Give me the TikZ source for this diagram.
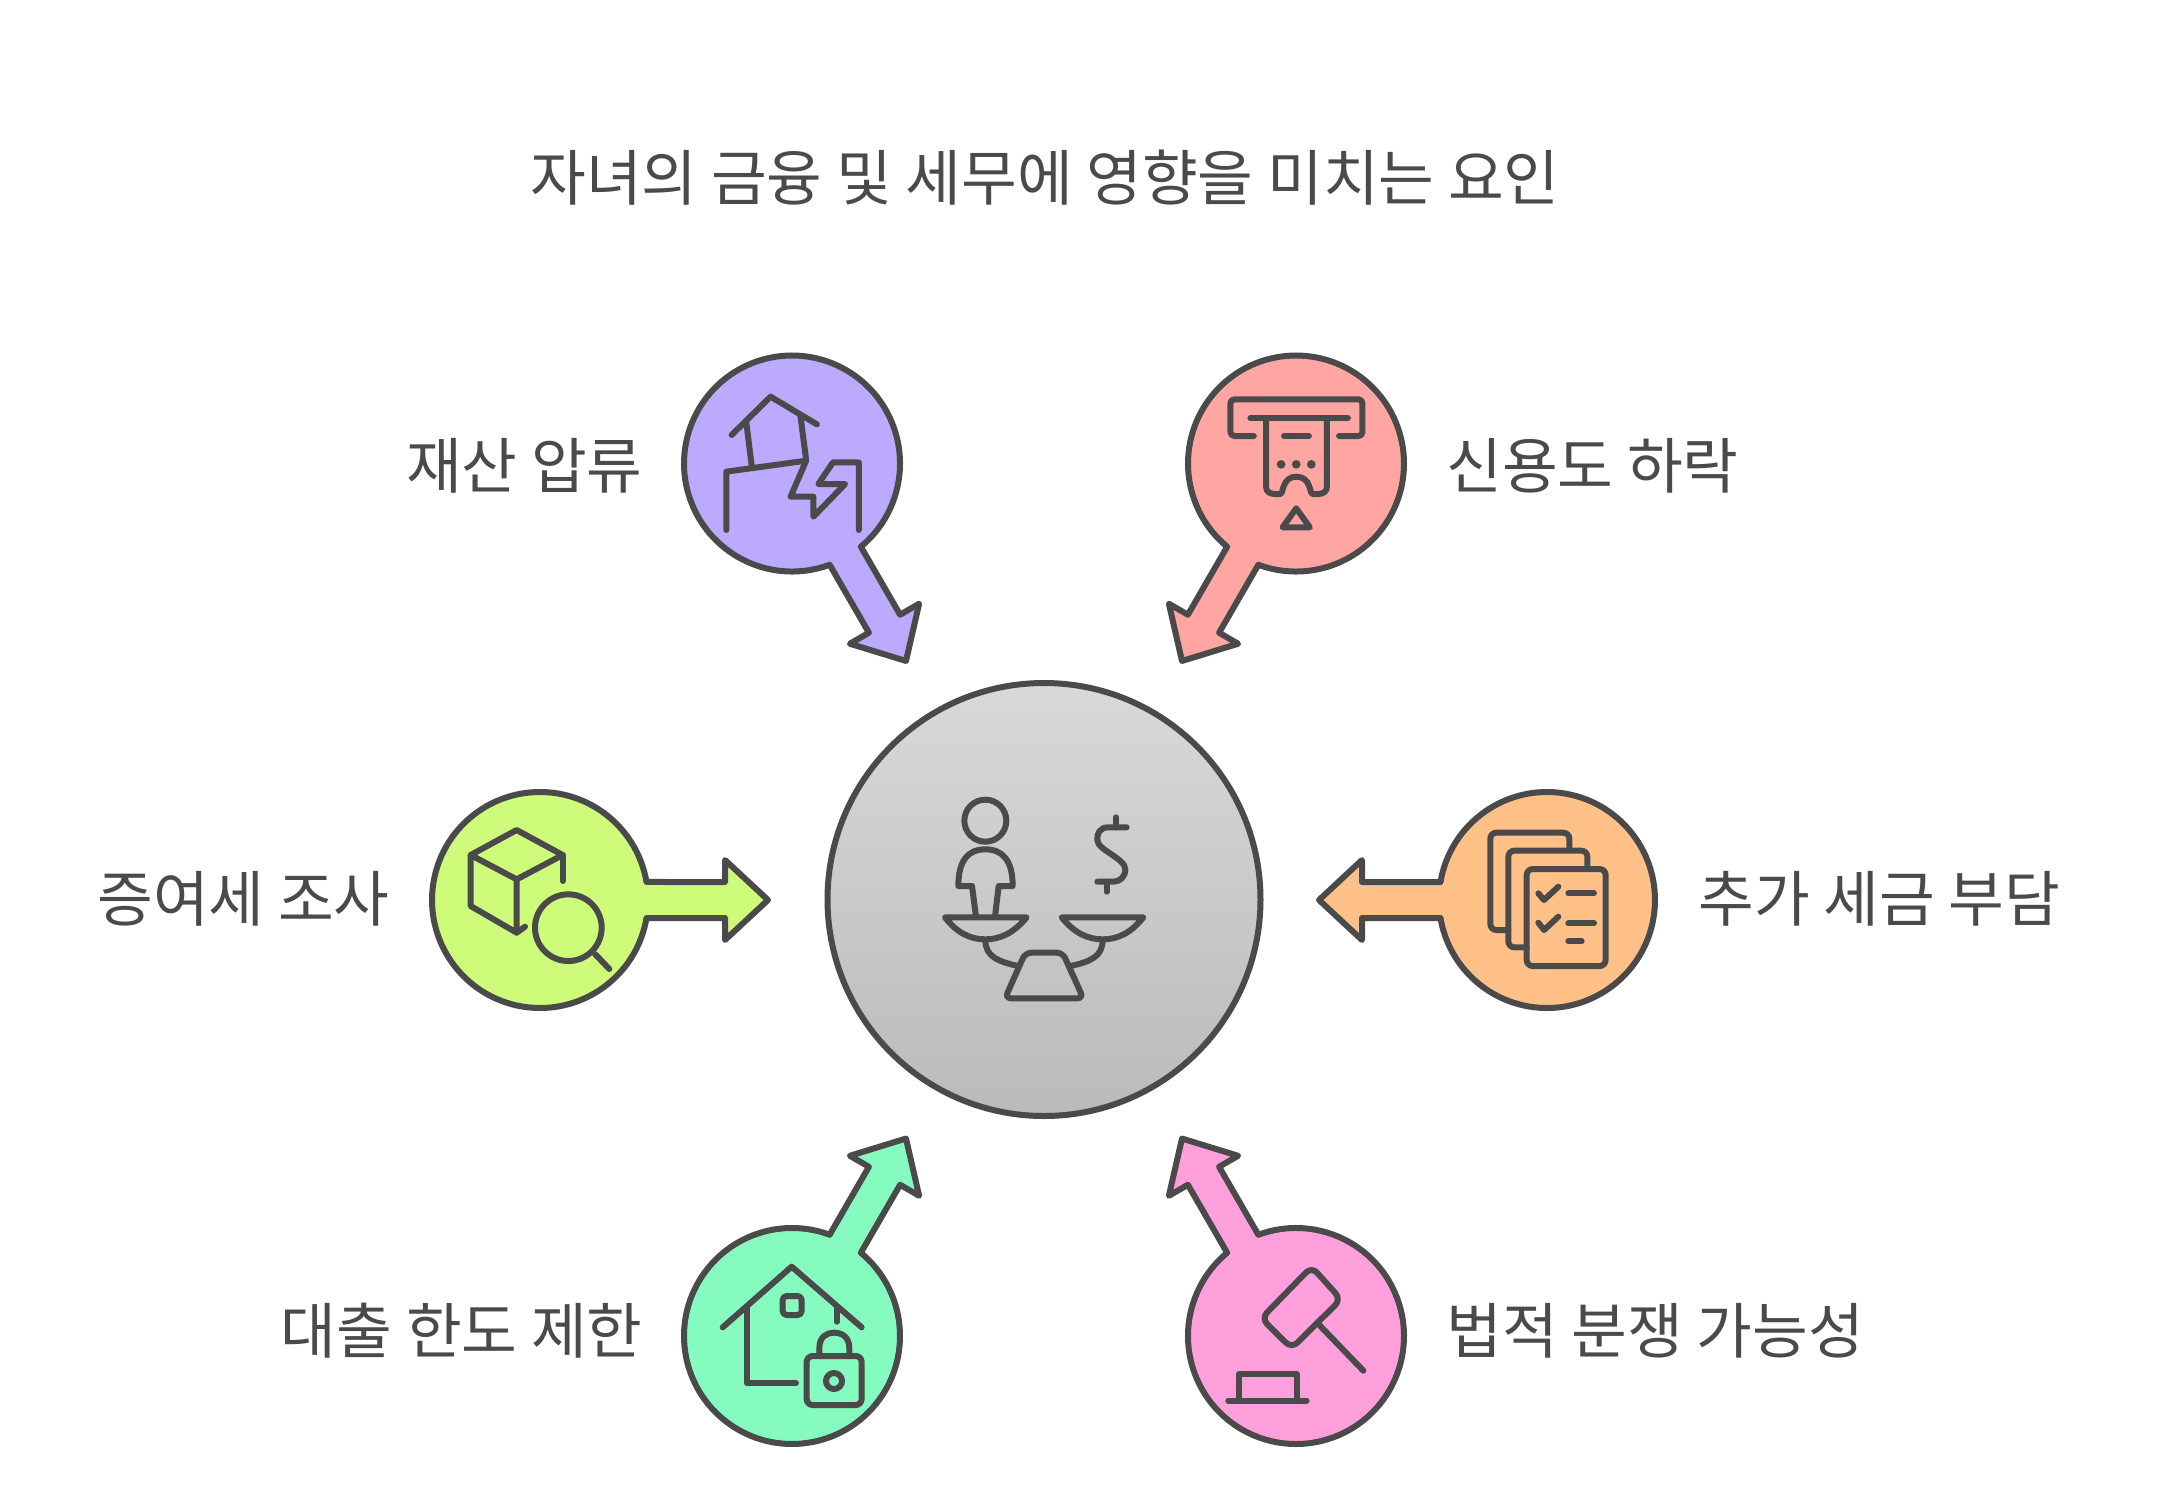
\documentclass[tikz,border=0pt]{standalone}
\usepackage{fontspec}
\setmainfont{Noto Sans CJK KR}
\definecolor{ink}{HTML}{4A4A4A}
\definecolor{cPurple}{HTML}{BBAAFF}
\definecolor{cRed}{HTML}{FFA6A2}
\definecolor{cLime}{HTML}{CEFB7A}
\definecolor{cOrange}{HTML}{FFC187}
\definecolor{cGreen}{HTML}{85FBC0}
\definecolor{cPink}{HTML}{FFA0DC}
\tikzset{
  hub/.style={circle,inner sep=0pt,minimum size=108pt},
  stroke/.style={draw=ink,line width=3pt,line join=round,line cap=round},
  glyph/.style={draw=ink,line width=3pt,line join=round,line cap=round,fill=none},
  label/.style={text=ink,font=\fontsize{30.3}{36}\selectfont,inner sep=0pt},
}
% merged circle + arrow outline: #1 hub node, #2 rotation, #3 colour
\newcommand{\burst}[3]{%
  \begin{scope}[shift={(#1.center)},rotate=#2]
    \path[stroke,fill=#3] (106.5,18) arc[start angle=9.6,end angle=350.4,radius=108]
      -- (185,-18) -- (185,-40) -- (228,0) -- (185,40) -- (185,18) -- cycle;
  \end{scope}}
\begin{document}
\begin{tikzpicture}[x=0.5pt,y=-0.5pt]
\useasboundingbox (0,0) rectangle (2160,1490);
\fill[white] (0,0) rectangle (2160,1490);

\node[label] (title) at (1045,178) {자녀의 금융 및 세무에 영향을 미치는 요인};

% central circle
\node[circle,inner sep=0pt,minimum size=216.5pt,draw=ink,line width=3pt,top color=black!15,bottom color=black!27] (center) at (1044,899.5) {};

% hubs
\node[hub] (hPurple) at (792,463.5) {};
\node[hub] (hRed) at (1296,463.5) {};
\node[hub] (hLime) at (540,900) {};
\node[hub] (hOrange) at (1547,900) {};
\node[hub] (hGreen) at (792,1336) {};
\node[hub] (hPink) at (1296,1336) {};

\burst{hPurple}{-60}{cPurple}
\burst{hRed}{-120}{cRed}
\burst{hLime}{0}{cLime}
\burst{hOrange}{180}{cOrange}
\burst{hGreen}{60}{cGreen}
\burst{hPink}{120}{cPink}

% labels
\node[label,anchor=east] (lPurple) at (643,466) {재산 압류};
\node[label,anchor=west] (lRed) at (1446,466) {신용도 하락};
\node[label,anchor=east] (lLime) at (390,899) {증여세 조사};
\node[label,anchor=west] (lOrange) at (1698,899) {추가 세금 부담};
\node[label,anchor=east] (lGreen) at (643,1331) {대출 한도 제한};
\node[label,anchor=west] (lPink) at (1446,1331) {법적 분쟁 가능성};

% central icon
\begin{scope}[shift={(900,780)},x=0.16667pt,y=-0.16667pt]
  \draw[glyph] (256,122) circle[radius=63];
  \draw[glyph] (228,410) -- (216,318) -- (175,318) .. controls (175,240) and (205,208) .. (256,208) .. controls (307,208) and (338,240) .. (338,318) -- (296,318) -- (285,410);
  \draw[glyph] (135,412) -- (380,412) .. controls (340,460) and (300,478) .. (256,478) .. controls (212,478) and (172,460) .. (135,412) -- cycle;
  \draw[glyph] (485,412) -- (730,412) .. controls (692,460) and (652,478) .. (608,478) .. controls (564,478) and (524,460) .. (485,412) -- cycle;
  \draw[glyph] (256,480) .. controls (256,530) and (295,545) .. (355,558);
  \draw[glyph] (608,480) .. controls (608,530) and (570,545) .. (512,558);
  \draw[glyph,rounded corners=3pt] (376,518) -- (488,518) -- (550,655) -- (315,655) -- cycle;
  \draw[glyph] (680,142) -- (625,142) .. controls (600,142) and (590,160) .. (592,180) .. controls (592,210) and (676,235) .. (676,268) .. controls (676,290) and (660,305) .. (640,305) -- (592,305);
  \draw[glyph] (648,112) -- (648,142);
  \draw[glyph] (620,305) -- (620,335);
\end{scope}

% purple icon
\begin{scope}[shift={(660,330)},x=0.2436pt,y=-0.16667pt]
  \draw[glyph] (147,315) -- (227,200) -- (322,283);
  \draw[glyph] (177,275) -- (188,405);
  \draw[glyph] (288,255) -- (300,390);
  \draw[glyph] (136,600) -- (136,425) -- (300,392) -- (268,500) -- (315,500) -- (315,560) -- (380,462) -- (325,462) -- (355,397) -- (408,397) -- (408,600);
\end{scope}

% red icon
\begin{scope}[shift={(657,330)},x=0.2436pt,y=-0.16667pt]
  \draw[glyph,rounded corners=2pt] (1225,318) -- (1177,318) -- (1177,208) -- (1448,208) -- (1448,318) -- (1400,318);
  \draw[glyph] (1218,264) -- (1418,264);
  \draw[glyph] (1250,270) -- (1250,470) .. controls (1250,485) and (1258,492) .. (1268,492) -- (1278,492) .. controls (1284,492) and (1283,480) .. (1286,470) .. controls (1290,450) and (1300,440) .. (1312,440) .. controls (1325,440) and (1335,450) .. (1339,470) .. controls (1342,480) and (1341,492) .. (1347,492) -- (1357,492) .. controls (1367,492) and (1375,485) .. (1375,470) -- (1375,270);
  \draw[glyph] (1287,318) -- (1338,318);
  \fill[ink] (1281,403) circle[x radius=9,y radius=13];
  \fill[ink] (1312,403) circle[x radius=9,y radius=13];
  \fill[ink] (1343,403) circle[x radius=9,y radius=13];
  \draw[glyph] (1312,535) -- (1340,592) -- (1284,592) -- cycle;
\end{scope}

% lime icon
\begin{scope}[shift={(420,780)},x=0.16667pt,y=-0.16667pt]
  \draw[glyph] (152,225) -- (290,150) -- (428,225) -- (290,298) -- cycle;
  \draw[glyph] (152,225) -- (152,378) -- (290,458) -- (290,298);
  \draw[glyph] (428,225) -- (428,303);
  \draw[glyph] (290,458) -- (315,440);
  \draw[glyph] (445,443) circle[radius=100];
  \draw[glyph] (525,522) -- (568,567);
\end{scope}

% orange icon
\begin{scope}[shift={(1430,780)},x=0.16667pt,y=-0.16667pt]
  \draw[glyph,rounded corners=3pt] (290,267) rectangle (527,558);
  \draw[glyph,rounded corners=3pt] (290,502) -- (235,502) -- (235,212) -- (472,212) -- (472,264);
  \draw[glyph,rounded corners=3pt] (235,450) -- (181,450) -- (181,158) -- (418,158) -- (418,210);
  \draw[glyph] (325,340) -- (342,360) -- (385,320);
  \draw[glyph] (325,428) -- (342,450) -- (385,410);
  \draw[glyph] (415,340) -- (492,340);
  \draw[glyph] (415,430) -- (492,430);
  \draw[glyph] (415,484) -- (455,484);
\end{scope}

% green icon
\begin{scope}[shift={(680,1220)},x=0.16667pt,y=-0.16667pt]
  \draw[glyph] (128,322) -- (335,140) -- (545,322);
  \draw[glyph] (200,262) -- (200,490) -- (348,490);
  \draw[glyph,rounded corners=2pt] (308,228) rectangle (365,285);
  \draw[glyph] (470,262) -- (470,305);
  \draw[glyph,rounded corners=3pt] (380,408) rectangle (545,555);
  \draw[glyph] (418,408) -- (418,385) .. controls (418,350) and (440,338) .. (462,338) .. controls (485,338) and (508,350) .. (508,385) -- (508,408);
  \draw[glyph] (462,483) circle[radius=24];
\end{scope}

% pink icon
\begin{scope}[shift={(1190,1220)},x=0.16667pt,y=-0.16667pt]
  \draw[glyph,rounded corners=4pt] (365,140) -- (453,238) -- (305,385) -- (214,295) -- cycle;
  \draw[glyph] (388,315) -- (520,452);
  \draw[glyph] (147,540) -- (147,462) -- (320,462) -- (320,540);
  \draw[glyph] (115,542) -- (350,542);
\end{scope}
\end{tikzpicture}
\end{document}
